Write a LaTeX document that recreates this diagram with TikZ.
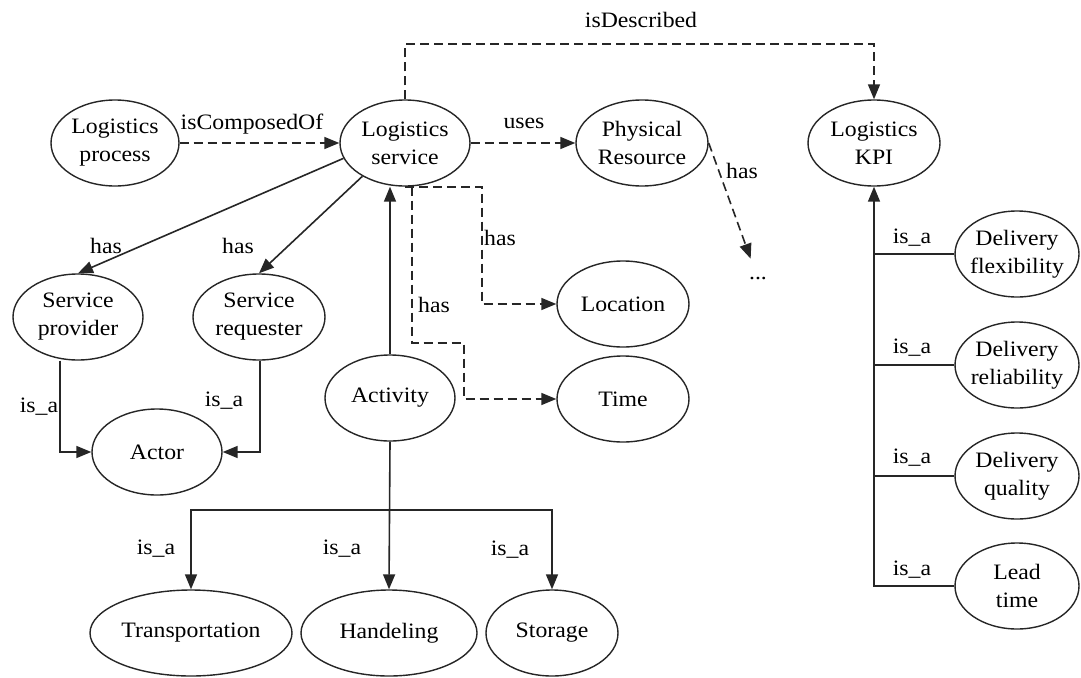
\documentclass[tikz,border=0pt]{standalone}
\usepackage{fontspec}
\setmainfont{Liberation Serif}[FakeStretch=1.08]
\usetikzlibrary{arrows.meta,shapes.geometric,calc}

% an entity: an ellipse of fixed size with its caption on top
\newcommand\entity[4]{%
  \node[ent, minimum width=#3] (#1) at (#2) {};
  \node[lbl] (#1-t) at (#1) {#4};}

\tikzset{
  ent/.style={draw=black!85, ellipse, line width=1.4pt, minimum height=86pt, inner sep=0pt},
  lbl/.style={inner sep=0pt, align=center, text=black},
  plainline/.style={draw=black!85, line width=1.6pt},
  rel/.style={plainline, -{Triangle[length=15pt,width=12pt]}},
  dsh/.style={rel, dash pattern=on 9pt off 5pt},
}

\begin{document}
\begin{tikzpicture}[x=1pt, y=-1pt, font=\fontsize{22}{28}\selectfont]
\fill[white] (0,0) rectangle (1081,677);
\useasboundingbox (0,0) rectangle (1081,677);

% entities
\entity{proc}{115,143}{128}{Logistics\\process}
\entity{serv}{405,143}{130}{Logistics\\service}
\entity{phys}{642,143}{132}{Physical\\Resource}
\entity{kpi}{874,143}{132}{Logistics\\KPI}
\entity{prov}{78,317}{130}{Service\\provider}
\entity{req}{259,317}{132}{Service\\requester}
\entity{actor}{157,452}{130}{Actor}
\entity{act}{390,398}{130}{Activity}
\entity{loc}{623,304}{132}{Location}
\entity{time}{623,399}{132}{Time}
\entity{trans}{191,633}{202}{Transportation}
\entity{hand}{389,633}{176}{Handeling}
\entity{stor}{552,633}{132}{Storage}
\entity{df}{1017,254}{124}{Delivery\\flexibility}
\entity{dr}{1017,365}{124}{Delivery\\reliability}
\entity{dq}{1017,476}{124}{Delivery\\quality}
\entity{lt}{1017,586}{124}{Lead\\time}
\node[lbl] (more) at (758,279) {...};

% dashed relations
\draw[dsh] (proc.east) -- (serv.west);
\node[lbl] (l-comp) at (252,124) {isComposedOf};
\draw[dsh] (serv.east) -- (phys.west);
\node[lbl] (l-uses) at (524,123) {uses};
\draw[dsh] (serv.north) -- ++(0,-55) -| (kpi.north);
\node[lbl] (l-desc) at (641,20) {isDescribed};
\draw[dsh, shorten >=20pt] (phys.east) -- (more);
\node[lbl] (l-phas) at (742,171) {has};
\draw[dsh] (serv.south) -| (482,304) -- (loc.west);
\node[lbl] (l-lhas) at (500,238) {has};
\draw[dsh] ([xshift=7pt]serv.south) |- (464,343) |- (time.west);
\node[lbl] (l-thas) at (434,305) {has};

% solid relations
\draw[rel] (serv.194) -- (prov.north);
\node[lbl] (l-phas2) at (106,246) {has};
\draw[rel] (serv.218) -- (req.north);
\node[lbl] (l-rhas) at (238,246) {has};
\draw[rel] (act.north) -- (act.north |- serv.south);

\draw[rel] ([xshift=-18pt]prov.south) |- (actor.west);
\node[lbl] (l-pisa) at (39,407) {is\_a};
\draw[rel] ([xshift=1pt]req.south) |- (actor.east);
\node[lbl] (l-risa) at (224,401) {is\_a};

\coordinate (split) at (389,510);
\draw[rel] (act.south) -- (hand.north);
\draw[rel] (split) -| (trans.north);
\draw[rel] (split) -| (stor.north);
\node[lbl] (l-tisa) at (156,549) {is\_a};
\node[lbl] (l-hisa) at (342,549) {is\_a};
\node[lbl] (l-sisa) at (510,550) {is\_a};

% KPI hierarchy
\draw[rel] (lt.west) -| (kpi.south);
\draw[plainline] (df.west) -- (df.west -| kpi.south);
\draw[plainline] (dr.west) -- (dr.west -| kpi.south);
\draw[plainline] (dq.west) -- (dq.west -| kpi.south);
\node[lbl] (l-fisa) at (912,238) {is\_a};
\node[lbl] (l-risa2) at (912,348) {is\_a};
\node[lbl] (l-qisa) at (912,458) {is\_a};
\node[lbl] (l-lisa) at (912,570) {is\_a};
\end{tikzpicture}
\end{document}
